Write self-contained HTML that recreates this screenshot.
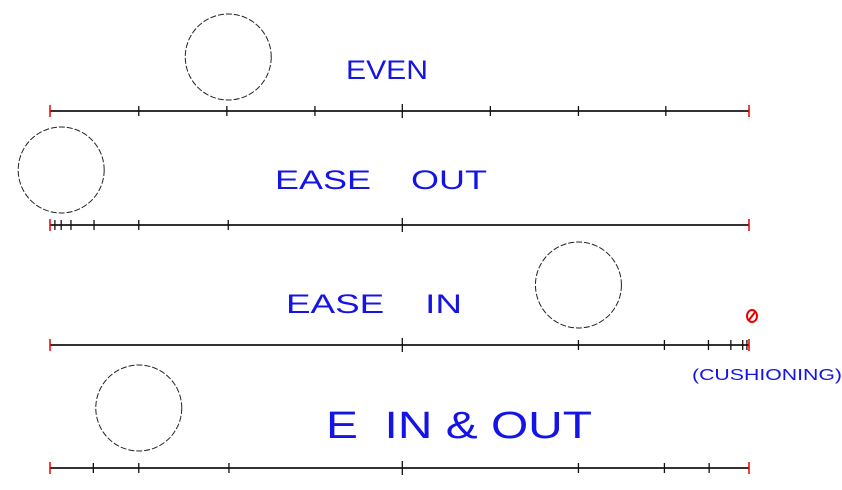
<!DOCTYPE html>
<html><head><meta charset="utf-8"><style>
body{margin:0;background:#fff;width:842px;height:490px;overflow:hidden}
svg{display:block}
.t{font-family:"Liberation Sans",sans-serif;fill:#1414e6}
</style></head><body>
<svg id="c" width="842" height="490">
<text class="t" x="346" y="79" font-size="27" textLength="82" lengthAdjust="spacingAndGlyphs">EVEN</text>
<text class="t" x="275" y="189" font-size="27" textLength="212" lengthAdjust="spacingAndGlyphs">EASE&#160;&#160;&#160;&#160;OUT</text>
<text class="t" x="286" y="313" font-size="27" textLength="176" lengthAdjust="spacingAndGlyphs">EASE&#160;&#160;&#160;&#160;IN</text>
<text class="t" x="692" y="380" font-size="16" textLength="150" lengthAdjust="spacingAndGlyphs">(CUSHIONING)</text>
<text class="t" x="326" y="438" font-size="38" textLength="266" lengthAdjust="spacingAndGlyphs">E&#160;&#160;IN &amp; OUT</text>
<g><ellipse cx="752" cy="316" rx="5" ry="6" fill="none" stroke="#e00" stroke-width="2"/><line x1="749" y1="320" x2="755" y2="312" stroke="#e00" stroke-width="2"/></g>
</svg>
<script>
const rowNames=['even','ease-out','ease-in','ease-in-out'];
const rowY=[111,225,345,468];
const tickEven=[0.127,0.253,0.379,0.504,0.63,0.756,0.881];
const tickEaseOut=[0.007,0.016,0.03,0.063,0.127,0.255,0.504];
const tickEaseIn=[0.504,0.756,0.879,0.942,0.974,0.991,0.997];
const tickInOut=[0.062,0.127,0.256,0.504,0.756,0.879,0.943];
const circlePos=[0.255,0.016,0.756,0.127];
const circleY=[57,170,285,408];
const ticks=[tickEven,tickEaseOut,tickEaseIn,tickInOut];
const X0=50,X1=749;
const sx=v=>X0+v*(X1-X0);
const svg=document.getElementById('c');
const NS='http://www.w3.org/2000/svg';
function mk(t,a){const e=document.createElementNS(NS,t);for(const k in a)e.setAttribute(k,a[k]);svg.appendChild(e);return e;}
rowNames.forEach((n,i)=>{
  const y=rowY[i];
  const l=mk('line',{x1:X0,y1:y,x2:X1,y2:y,stroke:'#333','stroke-width':2});
  
  
  [X0,X1].forEach(x=>{const r=mk('line',{x1:x,y1:y-6,x2:x,y2:y+6,stroke:'#e00','stroke-width':1.5});
    
    });
  ticks[i].forEach(v=>{const x=sx(v);const h=Math.abs(v-0.504)<0.01?7:5;
    const t=mk('line',{x1:x,y1:y-h,x2:x,y2:y+h,stroke:'#111','stroke-width':1.3});
    
    });
  const c=mk('circle',{cx:sx(circlePos[i]),cy:circleY[i],r:43,fill:'none',stroke:'#222','stroke-width':1,'stroke-dasharray':'6 2'});
  
  
});
</script>
</body></html>
